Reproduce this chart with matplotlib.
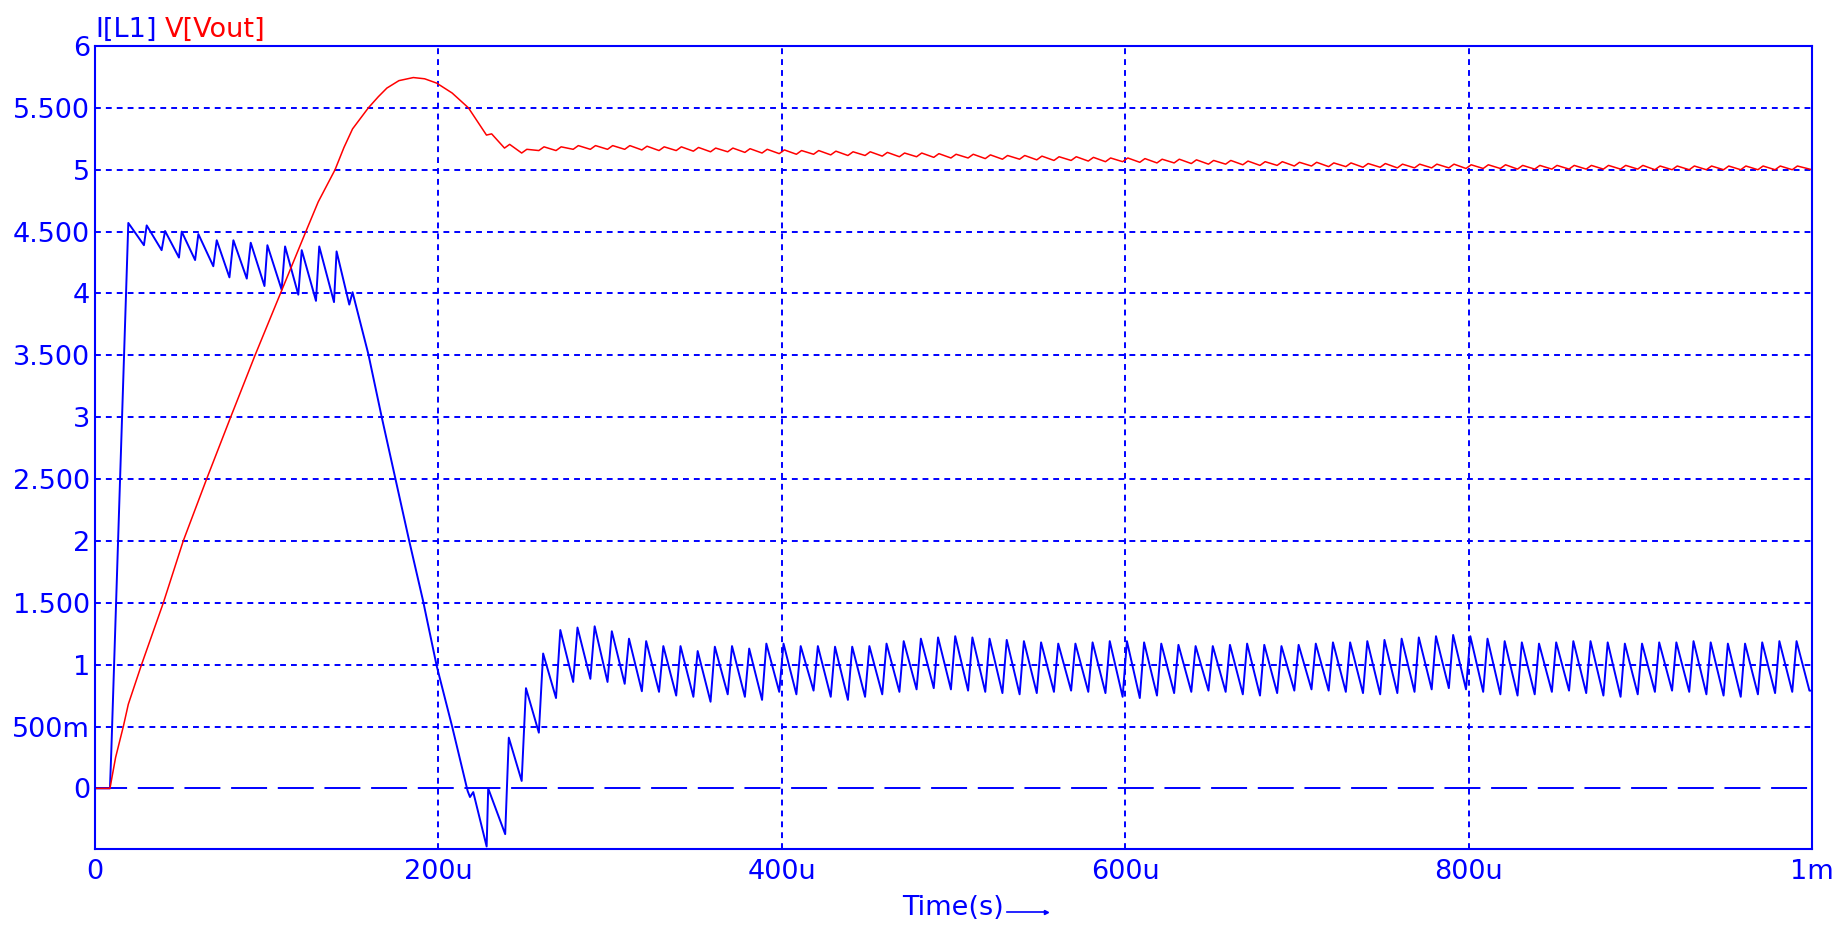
import numpy as np
import matplotlib
matplotlib.use("Agg")
import matplotlib.pyplot as plt
from matplotlib.lines import Line2D

# ---------------- data (time in microseconds) ----------------
# I[L1] start-up transient (vertices)
il_trans_t = [0, 8.7, 9.5, 19.4, 28.5, 30.1, 38.8, 40.8, 48.9, 50.5, 58.3, 60.2,
              68.9, 70.9, 78.3, 80.6, 88.4, 90.7, 98.7, 100.4, 108.7, 110.7,
              118.4, 120.4, 128.7, 130.6, 139.2, 140.7, 148.1, 150.0, 159.2,
              167.0, 175.0, 183.0, 191.0, 199.0, 208.0, 217.0, 218.4, 220.3,
              228.1, 229.0, 238.9]
il_trans_v = [0, 0, 0.30, 4.57, 4.39, 4.55, 4.35, 4.505, 4.29, 4.50, 4.27, 4.48,
              4.22, 4.43, 4.13, 4.43, 4.12, 4.41, 4.06, 4.39, 4.03, 4.38,
              3.99, 4.35, 3.94, 4.38, 3.93, 4.34, 3.91, 4.01, 3.51,
              3.00, 2.50, 2.00, 1.52, 0.99, 0.50, -0.02, -0.07, -0.03,
              -0.47, 0.00, -0.37]

# switching cycles after the transient: one peak and one trough per cycle
sw_period = 10.0          # us
first_peak = 241.0        # us
trough_lag = 7.5          # us after each peak
il_peaks = [0.41, 0.81, 1.09, 1.28, 1.30, 1.31, 1.27, 1.21, 1.19, 1.15,
            1.15, 1.11, 1.145, 1.15, 1.13, 1.17, 1.17, 1.15, 1.15, 1.145,
            1.145, 1.15, 1.17, 1.19, 1.21, 1.22, 1.23, 1.22, 1.21, 1.20,
            1.19, 1.18, 1.17, 1.17, 1.18, 1.19, 1.19, 1.18, 1.17, 1.16,
            1.15, 1.15, 1.16, 1.17, 1.16, 1.15, 1.16, 1.17, 1.18, 1.18,
            1.19, 1.20, 1.21, 1.22, 1.23, 1.24, 1.23, 1.21, 1.19, 1.18,
            1.17, 1.18, 1.19, 1.19, 1.18, 1.17, 1.17, 1.18, 1.18, 1.19,
            1.18, 1.17, 1.17, 1.18, 1.19, 1.19]
il_troughs = [0.06, 0.45, 0.73, 0.86, 0.885, 0.86, 0.845, 0.785, 0.78, 0.75,
              0.74, 0.70, 0.76, 0.74, 0.715, 0.78, 0.76, 0.79, 0.74, 0.715,
              0.74, 0.76, 0.78, 0.80, 0.81, 0.80, 0.79, 0.78, 0.77, 0.76,
              0.77, 0.78, 0.79, 0.78, 0.77, 0.74, 0.73, 0.75, 0.77, 0.78,
              0.79, 0.78, 0.76, 0.75, 0.77, 0.79, 0.80, 0.79, 0.78, 0.77,
              0.76, 0.77, 0.78, 0.80, 0.81, 0.80, 0.78, 0.76, 0.75, 0.76,
              0.78, 0.79, 0.77, 0.75, 0.74, 0.76, 0.78, 0.79, 0.78, 0.76,
              0.75, 0.74, 0.76, 0.77, 0.78, 0.79]

# V[Vout] start-up transient
vo_trans_t = [0, 8.7, 12.0, 16.5, 19.4, 27.1, 39.8, 51.4, 65.0, 79.0, 93.2,
              108.0, 122.8, 130.0, 139.8, 145.0, 150.0, 159.2, 165.0, 170.0,
              177.0, 185.4, 192.0, 199.0, 208.0, 217.5, 228.0, 231.0]
vo_trans_v = [0, 0, 0.25, 0.50, 0.68, 1.00, 1.50, 2.00, 2.50, 3.00, 3.50,
              4.00, 4.50, 4.74, 5.00, 5.18, 5.33, 5.50, 5.59, 5.66,
              5.72, 5.745, 5.735, 5.70, 5.62, 5.50, 5.28, 5.29]
# mean output level per switching cycle and its ripple (peak-to-peak)
vo_levels = [5.19, 5.15, 5.17, 5.17, 5.18, 5.18, 5.18, 5.18, 5.175, 5.17,
             5.17, 5.165, 5.16, 5.16, 5.155, 5.15, 5.145, 5.14, 5.14, 5.135,
             5.13, 5.13, 5.125, 5.12, 5.12, 5.115, 5.11, 5.11, 5.105, 5.10,
             5.10, 5.095, 5.09, 5.09, 5.085, 5.08, 5.08, 5.075, 5.07, 5.07,
             5.065, 5.06, 5.06, 5.055, 5.05, 5.05, 5.045, 5.045, 5.04, 5.04,
             5.035, 5.035, 5.03, 5.03, 5.03, 5.03, 5.025, 5.025, 5.025, 5.02,
             5.02, 5.02, 5.02, 5.02, 5.02, 5.02, 5.02, 5.015, 5.015, 5.015,
             5.015, 5.015, 5.015, 5.015, 5.015, 5.015]
vo_ripple = 0.03

x_ticks = [0, 200, 400, 600, 800, 1000]
x_ticklabels = ["0", "200u", "400u", "600u", "800u", "1m"]
y_ticks = [0, 0.5, 1, 1.5, 2, 2.5, 3, 3.5, 4, 4.5, 5, 5.5, 6]
y_ticklabels = ["0", "500m", "1", "1.500", "2", "2.500", "3", "3.500", "4",
                "4.500", "5", "5.500", "6"]

# ---------------- build traces ----------------
n = len(il_peaks)
peak_t = first_peak + sw_period * np.arange(n)
trough_t = peak_t + trough_lag
ss_t = np.empty(2 * n)
ss_v = np.empty(2 * n)
ss_t[0::2] = peak_t
ss_t[1::2] = trough_t
ss_v[0::2] = il_peaks
ss_v[1::2] = il_troughs
il_t = np.concatenate([il_trans_t, ss_t, [1000.0]])
il_v = np.concatenate([il_trans_v, ss_v, [il_troughs[-1]]])

lv = np.array(vo_levels)
lo_t = peak_t - 2.5
hi_t = peak_t + 0.5
r_t = np.empty(2 * n)
r_v = np.empty(2 * n)
r_t[0::2] = lo_t
r_t[1::2] = hi_t
r_v[0::2] = lv - vo_ripple / 2
r_v[1::2] = lv + vo_ripple / 2
vo_t = np.concatenate([vo_trans_t, r_t, [1000.0]])
vo_v = np.concatenate([vo_trans_v, r_v, [lv[-1] - vo_ripple / 2]])

# ---------------- draw ----------------
BLUE = "#0000FF"
RED = "#FF0000"
W, H = 1849, 925
plt.rcParams["font.family"] = ["DejaVu Sans"]
fs = 19.5

fig = plt.figure(figsize=(W / 100, H / 100), dpi=100)
ax = fig.add_axes([95 / W, 1 - 849 / H, (1812 - 95) / W, (849 - 46) / H])
ax.set_xlim(0, 1000)
ax.set_ylim(-0.49, 6.0)

# grid
short_dash = (0, (3.0, 2.6))
for y in y_ticks[1:-1]:
    ax.axhline(y, color=BLUE, lw=1.4, linestyle=short_dash, zorder=1)
for x in x_ticks[1:-1]:
    ax.axvline(x, color=BLUE, lw=1.4, linestyle=short_dash, zorder=1)
ax.axhline(0, color=BLUE, lw=1.4, linestyle=(2, (18.5, 5.5)), zorder=1)

ax.plot(il_t, il_v, color=BLUE, lw=1.4, zorder=3)
ax.plot(vo_t, vo_v, color=RED, lw=1.1, zorder=4)

ax.set_xticks(x_ticks)
ax.set_xticklabels(x_ticklabels)
ax.set_yticks(y_ticks)
ax.set_yticklabels(y_ticklabels)
ax.tick_params(axis="both", length=0, colors=BLUE, labelsize=fs)
ax.tick_params(axis="y", pad=3.5)
ax.tick_params(axis="x", pad=7)
for s in ax.spines.values():
    s.set_color(BLUE)
    s.set_linewidth(1.5)
    s.set_zorder(5)

fig.text(95 / W, 1 - 37 / H, "I[L1]", color=BLUE, fontsize=fs,
         ha="left", va="baseline")
fig.text(165 / W, 1 - 37 / H, "V[Vout]", color=RED, fontsize=fs,
         ha="left", va="baseline")

fig.text(953 / W, 1 - 908 / H, "Time(s)", color=BLUE, fontsize=fs,
         ha="center", va="center")
fig.add_artist(Line2D([1007 / W, 1046 / W], [1 - 912 / H, 1 - 912 / H],
                      color=BLUE, lw=1.2, transform=fig.transFigure))
fig.add_artist(Line2D([1046 / W], [1 - 912 / H], marker=">", markersize=3,
                      color=BLUE, transform=fig.transFigure))

fig.savefig("out.png", dpi=100)
